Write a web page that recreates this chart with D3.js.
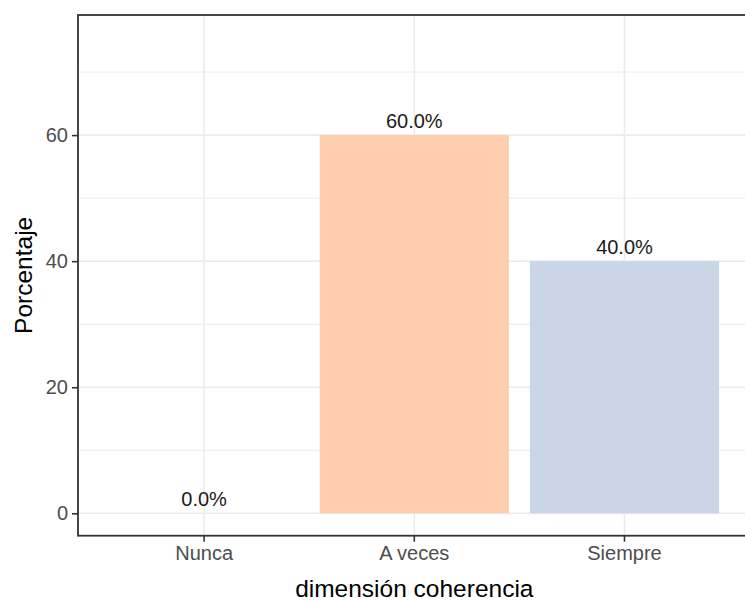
<!DOCTYPE html>
<html>
<head>
<meta charset="utf-8">
<script src="https://cdn.jsdelivr.net/npm/d3@7"></script>
<style>
  html, body { margin: 0; padding: 0; background: #fff; }
  svg { display: block; font-family: "Liberation Sans", Arial, sans-serif; }
</style>
</head>
<body>
<svg id="chart" width="745" height="601"></svg>
<script>
const categories = ["Nunca", "A veces", "Siempre"];
const values = [0, 60, 40];
const labels = ["0.0%", "60.0%", "40.0%"];
const barColors = ["#B3E2CD", "#FDCDAC", "#CBD5E8"];
const yMajorTicks = [0, 20, 40, 60];
const yMinorTicks = [10, 30, 50, 70];
const yLimits = [-3.55, 79.05];
const xTitle = "dimensión coherencia";
const yTitle = "Porcentaje";

const svg = d3.select("#chart");
const panel = { left: 78, top: 15, right: 750.6, bottom: 535.7 };

const x = d3.scaleBand()
  .domain(categories)
  .range([panel.left, panel.right])
  .paddingInner(0.1)
  .paddingOuter(0.15);

const y = d3.scaleLinear()
  .domain(yLimits)
  .range([panel.bottom, panel.top]);

const g = svg.append("g");

// minor grid
g.selectAll("line.minor").data(yMinorTicks).enter().append("line")
  .attr("x1", panel.left).attr("x2", panel.right)
  .attr("y1", d => y(d)).attr("y2", d => y(d))
  .attr("stroke", "#EBEBEB").attr("stroke-width", 1);

// major grid
g.selectAll("line.majorY").data(yMajorTicks).enter().append("line")
  .attr("x1", panel.left).attr("x2", panel.right)
  .attr("y1", d => y(d)).attr("y2", d => y(d))
  .attr("stroke", "#EBEBEB").attr("stroke-width", 1.6);

g.selectAll("line.majorX").data(categories).enter().append("line")
  .attr("x1", d => x(d) + x.bandwidth() / 2).attr("x2", d => x(d) + x.bandwidth() / 2)
  .attr("y1", panel.top).attr("y2", panel.bottom)
  .attr("stroke", "#EBEBEB").attr("stroke-width", 1.6);

// bars
g.selectAll("rect.bar").data(values).enter().append("rect")
  .attr("x", (d, i) => x(categories[i]))
  .attr("width", x.bandwidth())
  .attr("y", d => y(d))
  .attr("height", d => y(0) - y(d))
  .attr("fill", (d, i) => barColors[i]);

// value labels
g.selectAll("text.lab").data(values).enter().append("text")
  .attr("x", (d, i) => x(categories[i]) + x.bandwidth() / 2)
  .attr("y", d => y(d) - 7.5)
  .attr("text-anchor", "middle")
  .attr("font-size", "20px")
  .attr("fill", "#1a1a1a")
  .text((d, i) => labels[i]);

// panel border
svg.append("rect")
  .attr("x", panel.left).attr("y", panel.top)
  .attr("width", panel.right - panel.left).attr("height", panel.bottom - panel.top)
  .attr("fill", "none").attr("stroke", "#333333").attr("stroke-width", 1.8);

// axes
const yAxis = svg.append("g")
  .attr("transform", `translate(${panel.left},0)`)
  .call(d3.axisLeft(y).tickValues(yMajorTicks).tickSize(6).tickPadding(4).tickFormat(d3.format("d")));
yAxis.select(".domain").remove();
yAxis.selectAll(".tick line").attr("stroke", "#333333").attr("stroke-width", 1.6);
yAxis.selectAll(".tick text").attr("fill", "#4D4D4D").attr("font-size", "20px")
  .attr("font-family", "Liberation Sans, Arial, sans-serif");

const xAxis = svg.append("g")
  .attr("transform", `translate(0,${panel.bottom})`)
  .call(d3.axisBottom(x).tickSize(6).tickPadding(4));
xAxis.select(".domain").remove();
xAxis.selectAll(".tick line").attr("stroke", "#333333").attr("stroke-width", 1.6);
xAxis.selectAll(".tick text").attr("fill", "#4D4D4D").attr("font-size", "20px")
  .attr("font-family", "Liberation Sans, Arial, sans-serif");

// titles
svg.append("text")
  .attr("x", (panel.left + panel.right) / 2)
  .attr("y", 597)
  .attr("text-anchor", "middle")
  .attr("font-size", "24.5px")
  .attr("fill", "#000")
  .text(xTitle);

svg.append("text")
  .attr("transform", `translate(32,${(panel.top + panel.bottom) / 2}) rotate(-90)`)
  .attr("text-anchor", "middle")
  .attr("font-size", "24.5px")
  .attr("fill", "#000")
  .text(yTitle);
</script>
</body>
</html>
